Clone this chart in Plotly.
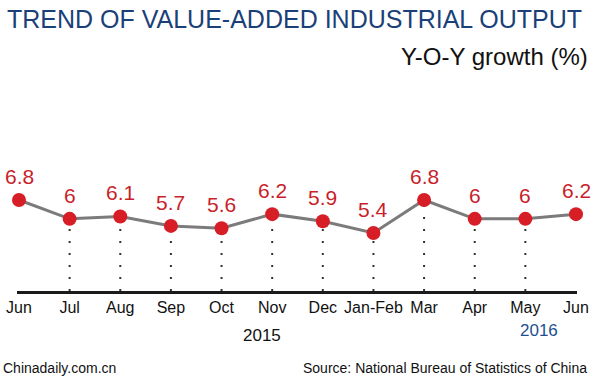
import plotly.graph_objects as go

months = ["Jun", "Jul", "Aug", "Sep", "Oct", "Nov", "Dec", "Jan-Feb", "Mar", "Apr", "May", "Jun"]
growth = [6.8, 6.0, 6.1, 5.7, 5.6, 6.2, 5.9, 5.4, 6.8, 6.0, 6.0, 6.2]
value_labels = ["6.8", "6", "6.1", "5.7", "5.6", "6.2", "5.9", "5.4", "6.8", "6", "6", "6.2"]
dotted_idx = [1, 2, 3, 4, 5, 6, 7, 8, 9, 10]  # months with a dotted drop line

FONT = "Liberation Sans, Arial, sans-serif"
BASE = 2.939
RED_TXT = "#c81f2b"
RED_MK = "#d71d26"
BLUE = "#1b3f78"

x = list(range(len(months)))

# dotted drop lines
dx, dy = [], []
for i in dotted_idx:
    dx += [x[i], x[i], None]
    dy += [BASE, growth[i], None]

fig = go.Figure()
fig.add_trace(go.Scatter(x=dx, y=dy, mode="lines",
                         line=dict(color="#333333", width=2, dash="2px,10px"),
                         hoverinfo="skip", showlegend=False))
fig.add_trace(go.Scatter(x=x, y=growth, mode="lines+markers",
                         line=dict(color="#7b7b7b", width=3),
                         marker=dict(color=RED_MK, size=14),
                         showlegend=False, cliponaxis=False))

for i, (v, t) in enumerate(zip(growth, value_labels)):
    fig.add_annotation(x=x[i], y=v, text=t, showarrow=False, yshift=23.5,
                       font=dict(family=FONT, size=21, color=RED_TXT),
                       xanchor="center", yanchor="middle")

def paper_y(py):
    return 1 - py / 291.0

def paper_x(px):
    return (px - 17) / 560.0

fig.add_annotation(xref="paper", yref="paper", x=paper_x(5), y=paper_y(19),
                   text="TREND OF VALUE-ADDED INDUSTRIAL OUTPUT", showarrow=False,
                   xanchor="left", yanchor="middle",
                   font=dict(family=FONT, size=25, color=BLUE))
fig.add_annotation(xref="paper", yref="paper", x=paper_x(590), y=paper_y(57),
                   text="Y-O-Y growth (%)", showarrow=False,
                   xanchor="right", yanchor="middle",
                   font=dict(family=FONT, size=24, color="#111111"))
fig.add_annotation(xref="paper", yref="paper", x=paper_x(1), y=paper_y(368),
                   text="Chinadaily.com.cn", showarrow=False,
                   xanchor="left", yanchor="middle",
                   font=dict(family=FONT, size=14, color="#111111"))
fig.add_annotation(xref="paper", yref="paper", x=paper_x(589), y=paper_y(368),
                   text="Source: National Bureau of Statistics of China", showarrow=False,
                   xanchor="right", yanchor="middle",
                   font=dict(family=FONT, size=14, color="#111111"))
fig.add_annotation(xref="x", yref="paper", x=4.8, y=paper_y(335),
                   text="2015", showarrow=False, xanchor="center", yanchor="middle",
                   font=dict(family=FONT, size=17, color="#111111"))
fig.add_annotation(xref="x", yref="paper", x=10.27, y=paper_y(330),
                   text="2016", showarrow=False, xanchor="center", yanchor="middle",
                   font=dict(family=FONT, size=17, color="#1f4f8f"))

fig.update_layout(
    width=600, height=380,
    margin=dict(l=17, r=23, t=0, b=89),
    paper_bgcolor="white", plot_bgcolor="white",
    xaxis=dict(range=[-2 / 50.636, 11 + 1 / 50.636], tickmode="array", tickvals=x,
               ticktext=months, showgrid=False, zeroline=False,
               showline=True, linecolor="#1a1a1a", linewidth=3, ticks="",
               tickfont=dict(family=FONT, size=16, color="#111111"),
               fixedrange=True),
    yaxis=dict(range=[BASE, 15.285], visible=False, fixedrange=True),
    showlegend=False,
    hovermode=False,
)

fig.write_html("out.html", config={"displayModeBar": False},
               post_script="document.body.style.margin='0';document.body.style.overflow='hidden';")
